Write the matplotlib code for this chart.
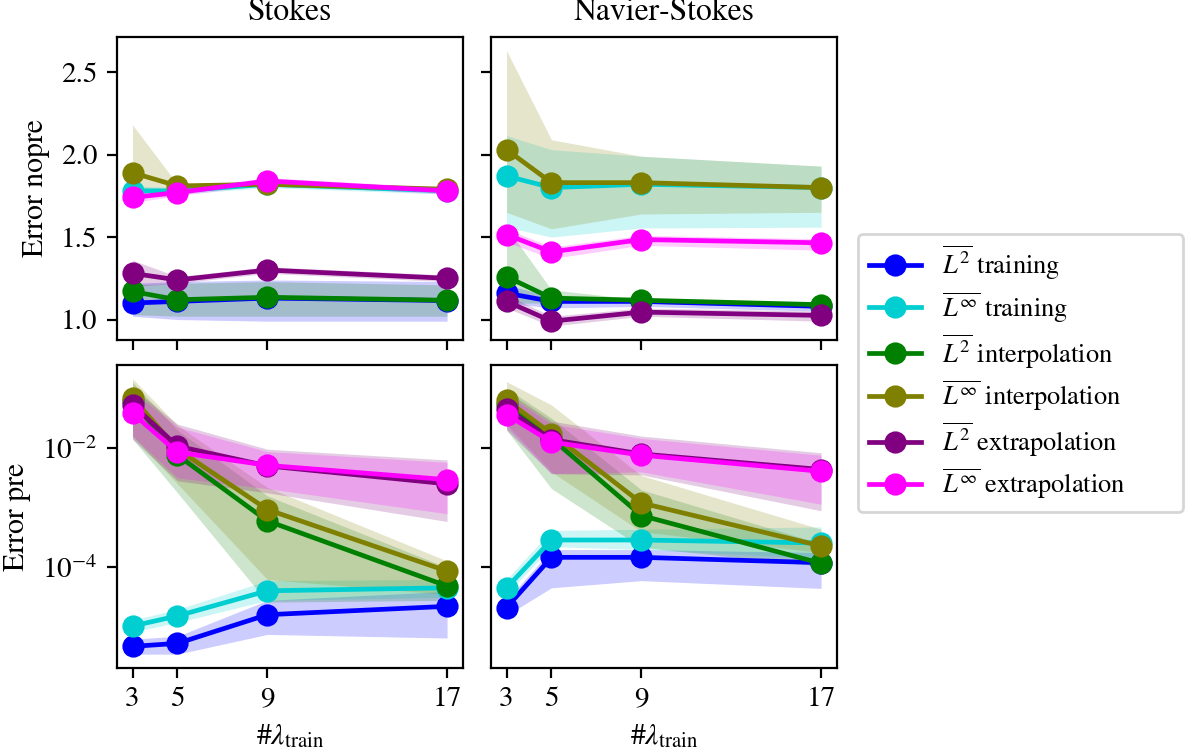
import matplotlib
matplotlib.use("Agg")
import matplotlib.pyplot as plt
import numpy as np

plt.rcParams['font.family'] = ['STIXGeneral', 'DejaVu Serif']
plt.rcParams['mathtext.fontset'] = 'stix'
plt.rcParams['font.size'] = 10

n_train = [3, 5, 9, 17]

labels = [r"$\overline{L^2}$ training", r"$\overline{L^\infty}$ training",
          r"$\overline{L^2}$ interpolation", r"$\overline{L^\infty}$ interpolation",
          r"$\overline{L^2}$ extrapolation", r"$\overline{L^\infty}$ extrapolation"]
colors = ["blue", "darkturquoise", "green", "olive", "purple", "magenta"]

# Stokes, no pretraining (mean, lower, upper)
stokes_nopre = [
    [1.10, 1.11, 1.13, 1.115],
    [1.78, 1.78, 1.82, 1.78],
    [1.17, 1.12, 1.135, 1.117],
    [1.89, 1.81, 1.82, 1.79],
    [1.28, 1.24, 1.30, 1.25],
    [1.74, 1.77, 1.84, 1.78],
]
stokes_nopre_lo = [
    [1.02, 1.00, 0.99, 0.99],
    [1.75, 1.76, 1.80, 1.76],
    [1.03, 1.02, 1.02, 1.02],
    [1.76, 1.79, 1.81, 1.78],
    [1.20, 1.22, 1.28, 1.23],
    [1.71, 1.75, 1.82, 1.76],
]
stokes_nopre_hi = [
    [1.22, 1.23, 1.24, 1.23],
    [1.81, 1.80, 1.84, 1.80],
    [1.21, 1.22, 1.23, 1.21],
    [2.18, 1.82, 1.83, 1.80],
    [1.36, 1.26, 1.32, 1.27],
    [1.77, 1.79, 1.86, 1.80],
]

# Navier-Stokes, no pretraining
ns_nopre = [
    [1.16, 1.11, 1.11, 1.08],
    [1.87, 1.80, 1.82, 1.80],
    [1.26, 1.13, 1.117, 1.09],
    [2.03, 1.83, 1.83, 1.80],
    [1.11, 0.99, 1.045, 1.025],
    [1.515, 1.41, 1.485, 1.465],
]
ns_nopre_lo = [
    [1.10, 1.07, 1.08, 1.05],
    [1.56, 1.50, 1.555, 1.56],
    [1.10, 1.10, 1.10, 1.07],
    [1.65, 1.55, 1.64, 1.65],
    [1.07, 0.96, 1.02, 0.99],
    [1.47, 1.37, 1.45, 1.42],
]
ns_nopre_hi = [
    [1.21, 1.14, 1.13, 1.10],
    [2.115, 2.03, 1.99, 1.93],
    [1.56, 1.18, 1.12, 1.10],
    [2.63, 2.09, 1.99, 1.93],
    [1.15, 1.02, 1.07, 1.05],
    [1.55, 1.44, 1.51, 1.49],
]

# Stokes, pretrained (log10 of error)
stokes_pre = [
    [-5.32, -5.27, -4.79, -4.65],
    [-4.98, -4.81, -4.39, -4.34],
    [-1.22, -2.12, -3.22, -4.31],
    [-1.16, -2.02, -3.03, -4.06],
    [-1.28, -1.97, -2.30, -2.60],
    [-1.42, -2.07, -2.29, -2.53],
]
stokes_pre_lo = [
    [-5.45, -5.45, -5.12, -5.18],
    [-5.08, -4.92, -4.55, -4.50],
    [-1.85, -2.75, -4.58, -4.55],
    [-1.80, -2.60, -4.20, -4.45],
    [-1.85, -2.55, -2.75, -3.23],
    [-1.80, -2.50, -2.68, -3.10],
]
stokes_pre_hi = [
    [-5.20, -5.15, -4.55, -4.40],
    [-4.88, -4.70, -4.22, -4.20],
    [-0.90, -1.70, -2.80, -4.00],
    [-0.84, -1.62, -2.66, -3.89],
    [-1.00, -1.60, -2.02, -2.20],
    [-1.05, -1.65, -2.06, -2.24],
]

# Navier-Stokes, pretrained (log10 of error)
ns_pre = [
    [-4.67, -3.83, -3.83, -3.92],
    [-4.34, -3.54, -3.54, -3.59],
    [-1.27, -1.84, -3.13, -3.93],
    [-1.20, -1.76, -2.92, -3.64],
    [-1.34, -1.86, -2.10, -2.36],
    [-1.44, -1.90, -2.12, -2.39],
]
ns_pre_lo = [
    [-4.80, -4.34, -4.22, -4.35],
    [-4.45, -3.65, -3.70, -3.85],
    [-1.70, -2.68, -3.66, -3.98],
    [-1.60, -2.40, -3.40, -3.75],
    [-1.70, -2.43, -2.45, -3.05],
    [-1.65, -2.43, -2.40, -2.94],
]
ns_pre_hi = [
    [-4.55, -3.70, -3.70, -3.75],
    [-4.20, -3.38, -3.36, -3.32],
    [-1.00, -1.50, -2.70, -3.60],
    [-0.89, -1.28, -2.46, -3.36],
    [-1.05, -1.55, -1.80, -2.08],
    [-1.10, -1.60, -1.84, -2.12],
]

fig, axes = plt.subplots(2, 2, figsize=(5.96, 3.765), dpi=200, sharex=True, sharey='row')
fig.subplots_adjust(left=0.098, right=0.702, top=0.951, bottom=0.113, wspace=0.081, hspace=0.0825)

panels = [
    (axes[0, 0], stokes_nopre, stokes_nopre_lo, stokes_nopre_hi, False),
    (axes[0, 1], ns_nopre, ns_nopre_lo, ns_nopre_hi, False),
    (axes[1, 0], stokes_pre, stokes_pre_lo, stokes_pre_hi, True),
    (axes[1, 1], ns_pre, ns_pre_lo, ns_pre_hi, True),
]

for ax, mean, lo, hi, logscale in panels:
    for i in range(6):
        m = np.array(mean[i])
        l = np.array(lo[i])
        h = np.array(hi[i])
        if logscale:
            m, l, h = 10 ** m, 10 ** l, 10 ** h
        ax.fill_between(n_train, l, h, color=colors[i], alpha=0.2, linewidth=0)
        ax.plot(n_train, m, marker='o', color=colors[i], lw=1.7, ms=7, label=labels[i])
    if logscale:
        ax.set_yscale('log')
    ax.tick_params(labelsize=10.5)

axes[0, 0].set_xticks(n_train)
axes[0, 0].set_yticks([1.0, 1.5, 2.0, 2.5])
axes[1, 0].set_yticks([1e-2, 1e-4])
axes[1, 0].yaxis.set_minor_locator(matplotlib.ticker.NullLocator())
axes[1, 1].yaxis.set_minor_locator(matplotlib.ticker.NullLocator())

axes[0, 0].set_title("Stokes", fontsize=11.4)
axes[0, 1].set_title("Navier-Stokes", fontsize=11.4)
axes[0, 0].set_ylabel("Error nopre", fontsize=10.7)
axes[1, 0].set_ylabel("Error pre", fontsize=10.7)
axes[1, 0].set_xlabel(r"$\#\lambda_{\mathrm{train}}$", fontsize=10.7)
axes[1, 1].set_xlabel(r"$\#\lambda_{\mathrm{train}}$", fontsize=10.7)

handles, labs = axes[0, 0].get_legend_handles_labels()
fig.legend(handles, labs, loc='center', bbox_to_anchor=(0.7198, 0.45, 0.2727, 0.11),
           mode='expand', borderaxespad=0, fontsize=9.5, labelspacing=0.3)

fig.savefig("out.png", dpi=200)
